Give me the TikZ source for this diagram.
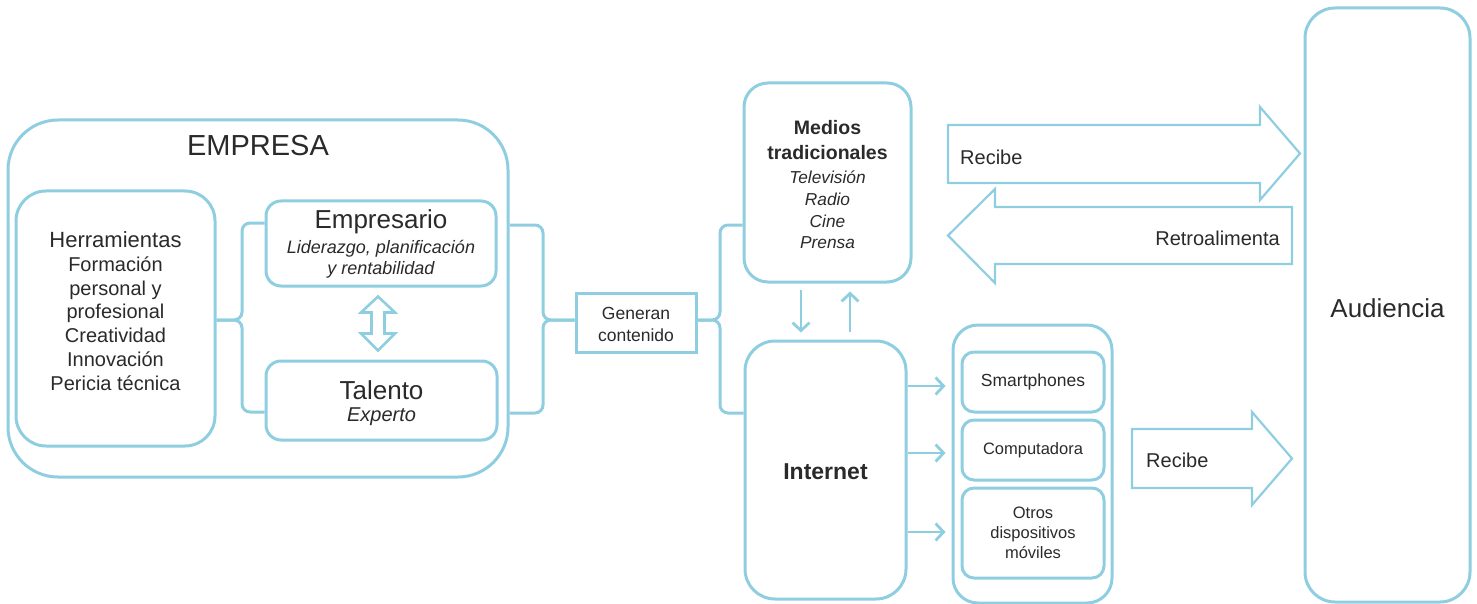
\documentclass[tikz,border=0pt]{standalone}
\usepackage{fontspec}
\setmainfont{Liberation Sans}
\usetikzlibrary{arrows.meta,calc}

\definecolor{skyline}{RGB}{143,206,224}
\definecolor{ink}{HTML}{2A2A2A}
\newcommand{\setfs}[2]{\fontsize{#1}{#2}\selectfont}

\begin{document}
\begin{tikzpicture}[x=1pt,y=-1pt,
  rbox/.style={draw=skyline, line width=3pt, rounded corners=#1, inner sep=0pt},
  sbox/.style={draw=skyline, line width=3pt, inner sep=0pt},
  txt/.style={text=ink, align=center, inner sep=0pt},
  conn/.style={draw=skyline, line width=3pt, rounded corners=8pt},
  arr/.style={draw=skyline, line width=2.8pt, -{Straight Barb[length=8pt,width=17pt]}},
  blockarrow/.style={draw=skyline, line width=2.2pt, line join=miter}]

\useasboundingbox (0,0) rectangle (1477,604);

% ---- company block ----
\node[rbox=50, minimum width=500, minimum height=357] (empresa) at (258,298.5) {};
\node[txt, font=\setfs{29}{34}] (empresaT) at (258,146) {EMPRESA};

\node[rbox=30, minimum width=199, minimum height=255] (herr) at (115.5,318.5) {};
\node[txt, font=\setfs{20}{23.8}] (herrT) at (115.5,311)
  {{\setfs{22}{26}Herramientas}\\Formación\\personal y\\profesional\\Creatividad\\Innovación\\Pericia técnica};

\node[rbox=15, minimum width=230, minimum height=85] (emp) at (381,243.5) {};
\node[txt, font=\setfs{26}{30}] (empT) at (381,222) {Empresario};
\node[txt, font=\setfs{18}{21}\itshape] (empS) at (381,259.5) {Liderazgo, planificación\\y rentabilidad};

\node[rbox=15, minimum width=231, minimum height=79] (tal) at (381.5,400.5) {};
\node[txt, font=\setfs{26}{30}] (talT) at (381.5,390) {Talento};
\node[txt, font=\setfs{20}{24}\itshape] (talS) at (381.5,417) {Experto};

% two-way arrow between Empresario and Talento
\coordinate (da1) at ($(emp.south)+(-3,9)$);
\coordinate (da2) at ($(tal.north)+(-3.5,-9)$);
\draw[blockarrow, line width=2.6pt] (da1) -- ++(17,16) -- ++(-10.5,0) -- ($(da2)+(6.5,-17)$)
  -- ++(10.5,0) -- (da2) -- ++(-17,-17) -- ++(10.5,0) -- ($(da1)+(-6.5,16)$)
  -- ++(-10.5,0) -- cycle;

% brace: Herramientas -> Empresario / Talento
\draw[conn] (emp.west |- 0,223) -- (242,223) -- (242,320) -- (herr.east |- 0,320);
\draw[conn] (tal.west |- 0,412) -- (242,412) -- (242,320) -- (herr.east |- 0,320);

% ---- generated content ----
\node[sbox, minimum width=120, minimum height=59] (gen) at (636,322.5) {};
\node[txt, font=\setfs{17.5}{22}] (genT) at (636,324) {Generan\\contenido};

\draw[conn] (empresa.east |- 0,225) -- (543,225) -- (543,320) -- (gen.west |- 0,320);
\draw[conn] (empresa.east |- 0,413) -- (543,413) -- (543,320) -- (gen.west |- 0,320);

% ---- media ----
\node[rbox=24, minimum width=167, minimum height=199] (med) at (827.5,182.5) {};
\node[txt, font=\setfs{19.5}{25}\bfseries] (medT) at (827.5,140) {Medios\\tradicionales};
\node[txt, font=\setfs{17.3}{21.7}\itshape] (medS) at (827.5,210) {Televisión\\Radio\\Cine\\Prensa};

\node[rbox=30, minimum width=161, minimum height=258] (int) at (825.5,470) {};
\node[txt, font=\setfs{23}{27}\bfseries] (intT) at (825.5,472) {Internet};

\draw[conn] (gen.east |- 0,320) -- (720,320) -- (720,225) -- (med.west |- 0,225);
\draw[conn] (gen.east |- 0,320) -- (720,320) -- (720,413) -- (int.west |- 0,413);

\draw[arr, shorten <=6pt, shorten >=7pt] (med.south -| 801,0) -- (int.north -| 801,0);
\draw[arr, shorten <=8pt, shorten >=8pt] (int.north -| 850,0) -- (med.south -| 850,0);

% ---- devices ----
\node[rbox=25, minimum width=159, minimum height=278] (dev) at (1032.5,464) {};
\node[rbox=12, minimum width=142, minimum height=60, txt, font=\setfs{17.5}{20}] (sm) at (1033,382) {Smartphones};
\node[rbox=12, minimum width=142, minimum height=60, txt, font=\setfs{16.5}{20}] (comp) at (1033,450) {Computadora};
\node[rbox=12, minimum width=142, minimum height=90, txt, font=\setfs{16.5}{20}] (otros) at (1033,533) {Otros\\dispositivos\\móviles};

\draw[arr, shorten >=6pt] (int.east |- 0,386) -- (dev.west |- 0,386);
\draw[arr, shorten >=6pt] (int.east |- 0,453) -- (dev.west |- 0,453);
\draw[arr, shorten >=6pt] (int.east |- 0,532) -- (dev.west |- 0,532);

% ---- audience ----
\node[rbox=30, minimum width=165, minimum height=594] (aud) at (1387.5,305) {};
\node[txt, font=\setfs{26}{30}] (audT) at (1387.5,308) {Audiencia};

% block arrows towards / from the audience
\draw[blockarrow] (948,125) -- (1260,125) -- (1260,107) -- (1300,153.5) -- (1260,200)
  -- (1260,183) -- (948,183) -- cycle;
\node[txt, anchor=west, font=\setfs{20}{24}] (rec1) at (960,157) {Recibe};

\draw[blockarrow] (1292,207) -- (995,207) -- (995,189) -- (948,235.5) -- (995,283)
  -- (995,264) -- (1292,264) -- cycle;
\node[txt, anchor=east, font=\setfs{20}{24}] (retro) at (1280,238) {Retroalimenta};

\draw[blockarrow] (1132,429) -- (1252,429) -- (1252,412) -- (1292,458.5) -- (1252,505)
  -- (1252,488) -- (1132,488) -- cycle;
\node[txt, anchor=west, font=\setfs{20}{24}] (rec2) at (1146,460) {Recibe};

\end{tikzpicture}
\end{document}
